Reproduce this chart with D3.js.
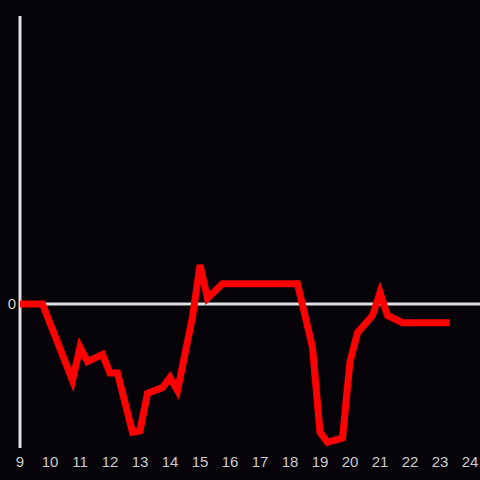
<!DOCTYPE html>
<html>
<head>
<meta charset="utf-8">
<title>Line chart</title>
<style>
  body { margin: 0; background: #050308; }
  svg { display: block; }
</style>
</head>
<body>
<svg width="480" height="480"></svg>
<script src="https://cdn.jsdelivr.net/npm/d3@7"></script>
<script>
var hours = [9, 9.75, 10.75, 11, 11.25, 11.75, 12, 12.25, 12.75, 13, 13.25, 13.75, 14, 14.25,
             14.75, 15, 15.25, 15.75, 16, 17, 18, 18.25, 18.75, 19, 19.25, 19.75, 20, 20.25,
             20.75, 21, 21.25, 21.75, 22, 23, 23.33];
var values = [0, 0, -0.53, -0.3, -0.4, -0.35, -0.48, -0.48, -0.89, -0.88, -0.62, -0.58, -0.51, -0.6,
              -0.09, 0.27, 0.04, 0.14, 0.14, 0.14, 0.14, 0.14, -0.3, -0.89, -0.96, -0.93, -0.4, -0.2,
              -0.08, 0.08, -0.08, -0.13, -0.13, -0.13, -0.13];
var xTicks = [9, 10, 11, 12, 13, 14, 15, 16, 17, 18, 19, 20, 21, 22, 23, 24];
var yTicks = [0];

var svg = d3.select('svg');
var x = d3.scaleLinear().domain([9, 24]).range([20, 470]);
var y = d3.scaleLinear().domain([-1, 2]).range([448, 16]);

// axes lines
svg.append('line')
  .attr('x1', x(9)).attr('x2', 480)
  .attr('y1', y(0)).attr('y2', y(0))
  .attr('stroke', '#e0e0e0').attr('stroke-width', 3);
svg.append('line')
  .attr('x1', x(9)).attr('x2', x(9))
  .attr('y1', y(2)).attr('y2', y(-1))
  .attr('stroke', '#e0e0e0').attr('stroke-width', 3);

svg.selectAll('text.xt').data(xTicks).enter().append('text')
  .attr('class', 'xt')
  .attr('x', function(d) { return x(d); })
  .attr('y', 467)
  .attr('text-anchor', 'middle')
  .attr('fill', '#cccccc')
  .style('font', '15px "Liberation Sans", Arial, sans-serif')
  .text(function(d) { return d; });

svg.selectAll('text.yt').data(yTicks).enter().append('text')
  .attr('class', 'yt')
  .attr('x', 16)
  .attr('y', function(d) { return y(d) + 5; })
  .attr('text-anchor', 'end')
  .attr('fill', '#cccccc')
  .style('font', '15px "Liberation Sans", Arial, sans-serif')
  .text(function(d) { return d; });

var line = d3.line()
  .x(function(d, i) { return x(hours[i]); })
  .y(function(d) { return y(d); });

svg.append('path')
  .datum(values)
  .attr('d', line)
  .attr('fill', 'none')
  .attr('stroke', '#ff0000')
  .attr('stroke-width', 7)
  .attr('stroke-linejoin', 'miter');
</script>
</body>
</html>
